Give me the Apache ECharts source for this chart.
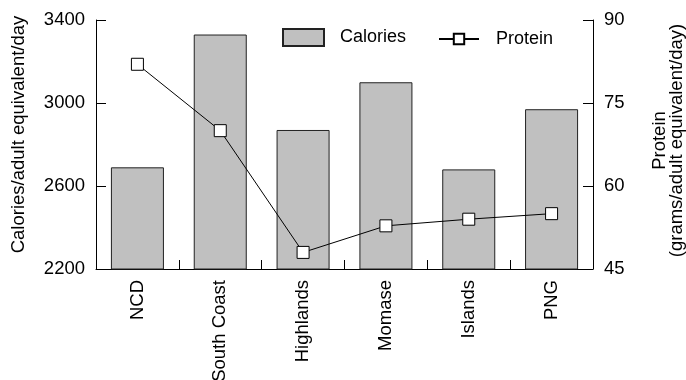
<!DOCTYPE html>
<html>
<head>
<meta charset="utf-8">
<script src="https://cdn.jsdelivr.net/npm/echarts@6/dist/echarts.min.js"></script>
<style>
  html, body { margin: 0; padding: 0; background: #fff; }
  #chart { width: 686px; height: 380px; }
</style>
</head>
<body>
<div id="chart"></div>
<script>
const regions = ['NCD', 'South Coast', 'Highlands', 'Momase', 'Islands', 'PNG']
const calories = [2690, 3330, 2870, 3100, 2680, 2970]
const protein = [82, 70, 48, 52.8, 54, 55]

const font = 'Liberation Sans, Arial, Helvetica, sans-serif'
const txt = { color: '#000', fontFamily: font, fontSize: 18.5 }

const chart = echarts.init(document.getElementById('chart'))

const axisBase = {
  axisLine: { show: true, lineStyle: { color: '#000', width: 1 } },
  axisTick: { show: true, inside: true, length: 10, lineStyle: { color: '#000' } },
  splitLine: { show: false },
  axisLabel: { ...txt, margin: 11, formatter: v => String(v) },
  nameLocation: 'middle'
}

chart.setOption({
  animation: false,
  textStyle: { fontFamily: font },
  grid: { left: 96, right: 93, top: 20, bottom: 111, outerBoundsMode: 'none' },
  legend: [
    {
      data: [{ name: 'Calories', icon: 'rect' }],
      left: 282, top: 28, padding: 0,
      itemWidth: 41, itemHeight: 17,
      textStyle: { ...txt, fontSize: 18, padding: [0, 0, 0, 11] }
    },
    {
      data: ['Protein'],
      left: 438, top: 30, padding: 0,
      itemWidth: 40, itemHeight: 13,
      textStyle: { ...txt, fontSize: 18, padding: [0, 0, 0, 12] }
    }
  ],
  xAxis: {
    type: 'category',
    data: regions,
    axisLine: { lineStyle: { color: '#000' } },
    axisTick: { show: true, inside: true, length: 9, lineStyle: { color: '#000' } },
    axisLabel: { ...txt, rotate: 90, margin: 11, interval: 0 }
  },
  yAxis: [
    {
      ...axisBase,
      type: 'value',
      min: 2200, max: 3400, interval: 400,
      name: 'Calories/adult equivalent/day',
      nameGap: 68,
      nameTextStyle: { ...txt, padding: [0, 0, 0, 20] }
    },
    {
      ...axisBase,
      type: 'value',
      position: 'right',
      min: 45, max: 90, interval: 15,
      name: 'Protein\n(grams/adult equivalent/day)',
      nameRotate: 90,
      nameGap: 58,
      nameTextStyle: { ...txt, lineHeight: 17, padding: [0, 0, 0, 8] }
    }
  ],
  series: [
    {
      name: 'Calories',
      type: 'bar',
      data: calories,
      barWidth: '64%',
      itemStyle: { color: '#c0c0c0', borderColor: '#222', borderWidth: 1 }
    },
    {
      name: 'Protein',
      type: 'line',
      yAxisIndex: 1,
      data: protein,
      symbol: 'rect',
      symbolSize: 12,
      lineStyle: { color: '#000', width: 1 },
      itemStyle: { color: '#fff', borderColor: '#000', borderWidth: 1 }
    }
  ]
})
</script>
</body>
</html>
